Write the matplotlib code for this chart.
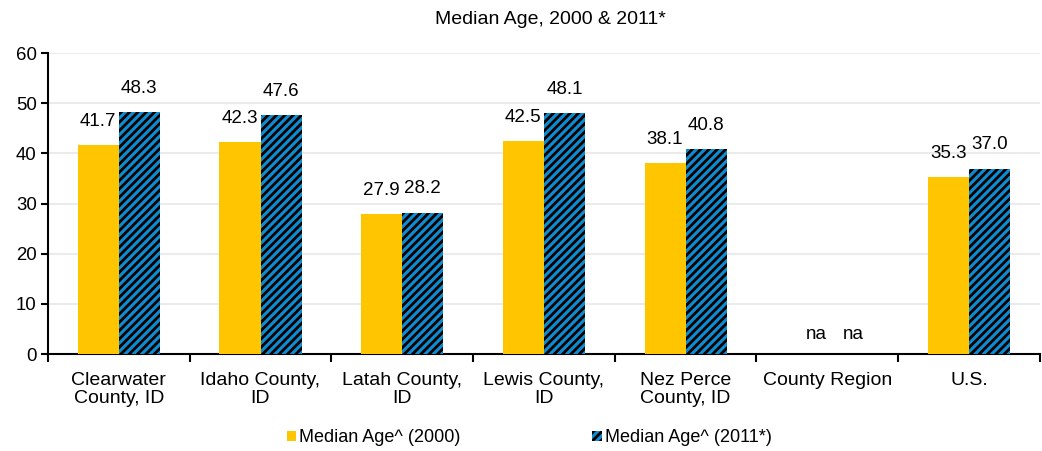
import numpy as np
import matplotlib.pyplot as plt

plt.rcParams['font.family'] = ['Liberation Sans', 'DejaVu Sans']
plt.rcParams['hatch.linewidth'] = 2.0
plt.rcParams['hatch.color'] = 'black'

YELLOW = '#FFC600'
BLUE = '#0F8BD0'
GRID = '#EBEBEB'

regions = ['Clearwater\nCounty, ID', 'Idaho County,\nID', 'Latah County,\nID',
           'Lewis County,\nID', 'Nez Perce\nCounty, ID', 'County Region', 'U.S.']
age_2000 = [41.7, 42.3, 27.9, 42.5, 38.1, np.nan, 35.3]
age_2011 = [48.3, 47.6, 28.2, 48.1, 40.8, np.nan, 37.0]

fig = plt.figure(figsize=(10.42, 4.51), dpi=100)
ax = fig.add_axes([0.046, 0.215, 0.952, 0.667])

x = np.arange(len(regions))
w = 0.29
b1 = ax.bar(x - w / 2, age_2000, w, color=YELLOW, linewidth=0,
            label='Median Age^ (2000)', zorder=3)
b2 = ax.bar(x + w / 2, age_2011, w, color=BLUE, edgecolor='black', linewidth=0,
            hatch='////', label='Median Age^ (2011*)', zorder=3)

# value labels, "na" where there is no data
for bars, vals, dx in ((b1, age_2000, 7), (b2, age_2011, 4)):
    for rect, v in zip(bars, vals):
        cx = rect.get_x() + rect.get_width() / 2
        if np.isnan(v):
            txt, y, off = 'na', 0, (dx, 8)
        else:
            txt, y, off = f'{v:.1f}', v, (0, 11)
        ax.annotate(txt, (cx, y), xytext=off, textcoords='offset points',
                    ha='center', va='bottom', fontsize=13.5)

ax.set_ylim(0, 60)
ax.set_xlim(-0.5, len(regions) - 0.5)
ax.set_yticks(range(0, 61, 10))
ax.yaxis.grid(True, color=GRID, linewidth=1.5, zorder=0)
ax.set_axisbelow(True)

ax.set_xticks(x)
ax.set_xticklabels(regions, fontsize=14, linespacing=1.1)
ax.set_xticks(np.arange(-0.5, len(regions)), minor=True)
ax.tick_params(axis='x', which='major', length=0, pad=13)
ax.tick_params(axis='x', which='minor', length=6, width=1.5, direction='out')
ax.tick_params(axis='y', labelsize=13.4, length=5, width=1.5, pad=3)

for s in ('top', 'right'):
    ax.spines[s].set_visible(False)
for s in ('left', 'bottom'):
    ax.spines[s].set_linewidth(1.5)

fig.text(0.528, 1 - 19 / 451, 'Median Age, 2000 & 2011*', ha='center', va='center',
         fontsize=14)

fig.legend(handles=[b1, b2], loc='center', bbox_to_anchor=(0.508, 1 - 438 / 451),
           ncol=2, frameon=False, fontsize=13, handlelength=0.5, handleheight=0.5,
           handletextpad=0.2, columnspacing=7.3)

fig.savefig('out.png', dpi=100)
